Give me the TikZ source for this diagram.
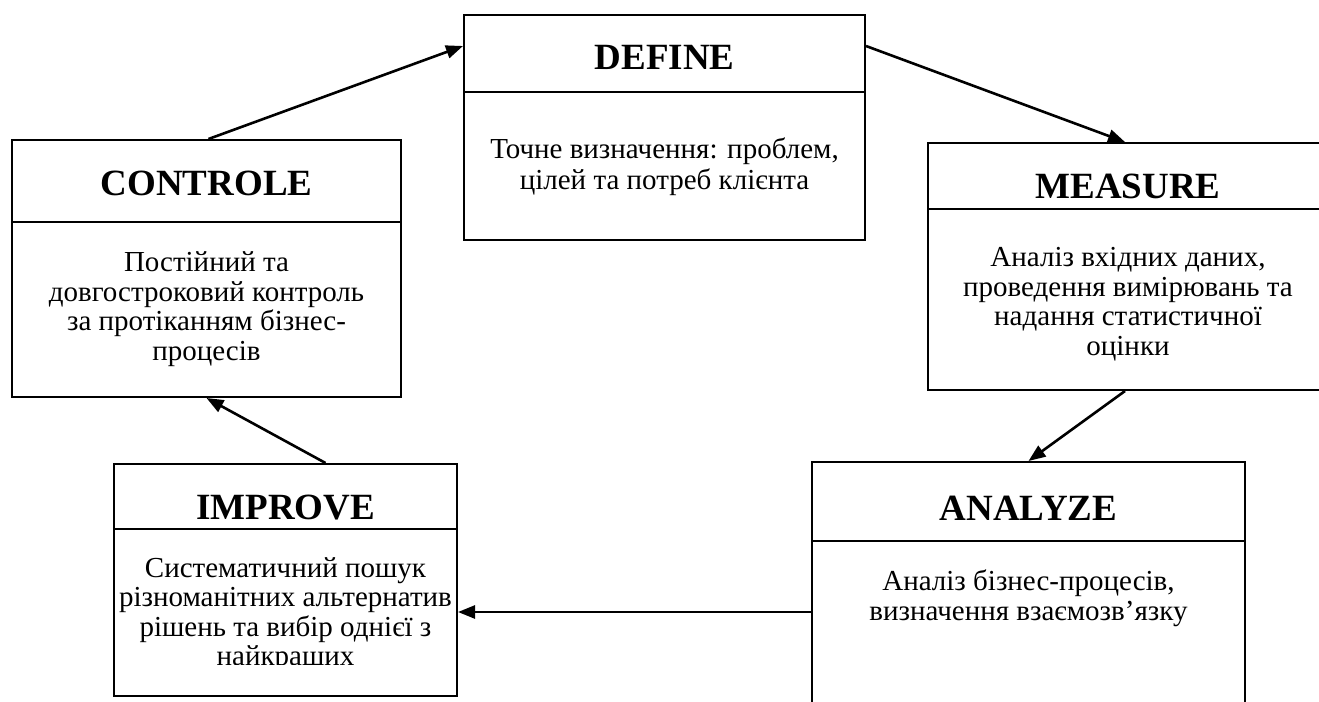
\documentclass[tikz,border=0pt]{standalone}
\usepackage{fontspec}
\setmainfont{Liberation Serif}
\usetikzlibrary{arrows.meta,calc}
\begin{document}
\begin{tikzpicture}[x=1pt,y=-1pt,
  box/.style={draw,line width=2pt,rectangle,inner sep=0pt},
  divider/.style={line width=2pt},
  title/.style={font=\bfseries\fontsize{37}{40}\selectfont,anchor=base,inner sep=0pt},
  body/.style={font=\fontsize{29}{29.5}\selectfont,align=center,anchor=north,inner sep=0pt},
  arr/.style={line width=2.6pt,-{Triangle[length=17pt,width=13pt]}}]
\useasboundingbox (0,0) rectangle (1319,701);
% boxes
\node[box,minimum width=389pt,minimum height=257pt] (ctrl) at (206.5,268.5) {};
\node[box,minimum width=401pt,minimum height=225pt] (def) at (664.5,127.5) {};
\node[box,minimum width=400pt,minimum height=247pt] (meas) at (1128,266.5) {};
\node[box,minimum width=433pt,minimum height=300pt] (an) at (1028.5,612) {};
\node[box,minimum width=343pt,minimum height=232pt] (imp) at (285.5,580) {};
% dividers
\draw[divider] (ctrl.west |- 0,222) -- (ctrl.east |- 0,222);
\draw[divider] (def.west |- 0,92) -- (def.east |- 0,92);
\draw[divider] (meas.west |- 0,209) -- (meas.east |- 0,209);
\draw[divider] (an.west |- 0,541) -- (an.east |- 0,541);
\draw[divider] (imp.west |- 0,529) -- (imp.east |- 0,529);
% titles
\node[title] (ctrlT) at (206.5,195) {CONTROLE};
\node[title] (defT) at (664.5,70) {DEFINE};
\node[title] (measT) at (1128,198) {MEASURE};
\node[title] (anT) at (1028.5,520) {ANALYZE};
\node[title] (impT) at (285.5,519) {IMPROVE};
% bodies
\node[body] (ctrlB) at (206.5,251) {\strut Постійний та\\довгостроковий контроль\\за протіканням бізнес-\\процесів};
\node[body] (defB) at (664.5,138) {\strut Точне визначення: проблем,\\цілей та потреб клієнта};
\node[body] (measB) at (1128,246) {\strut Аналіз вхідних даних,\\проведення вимірювань та\\надання статистичної\\оцінки};
\node[body] (anB) at (1028.5,570) {\strut Аналіз бізнес-процесів,\\визначення взаємозв’язку};
\begin{scope}
\clip (114,529) rectangle (457,664);
\node[body] (impB) at (285.5,556.5) {\strut Систематичний пошук\\різноманітних альтернатив\\рішень та вибір однієї з\\найкращих};
\end{scope}
% connectors
\draw[arr] ([xshift=2pt]ctrl.north) -- ([yshift=-32pt]def.north west);
\draw[arr] ([yshift=-32pt]def.north east) -- ([xshift=-3pt]meas.north);
\draw[arr] ([xshift=-3pt]meas.south) -- (an.north);
\draw[arr] (an.west) -- (an.west -| imp.east);
\draw[arr] ([xshift=40pt]imp.north) -- (ctrl.south);
\end{tikzpicture}
\end{document}
